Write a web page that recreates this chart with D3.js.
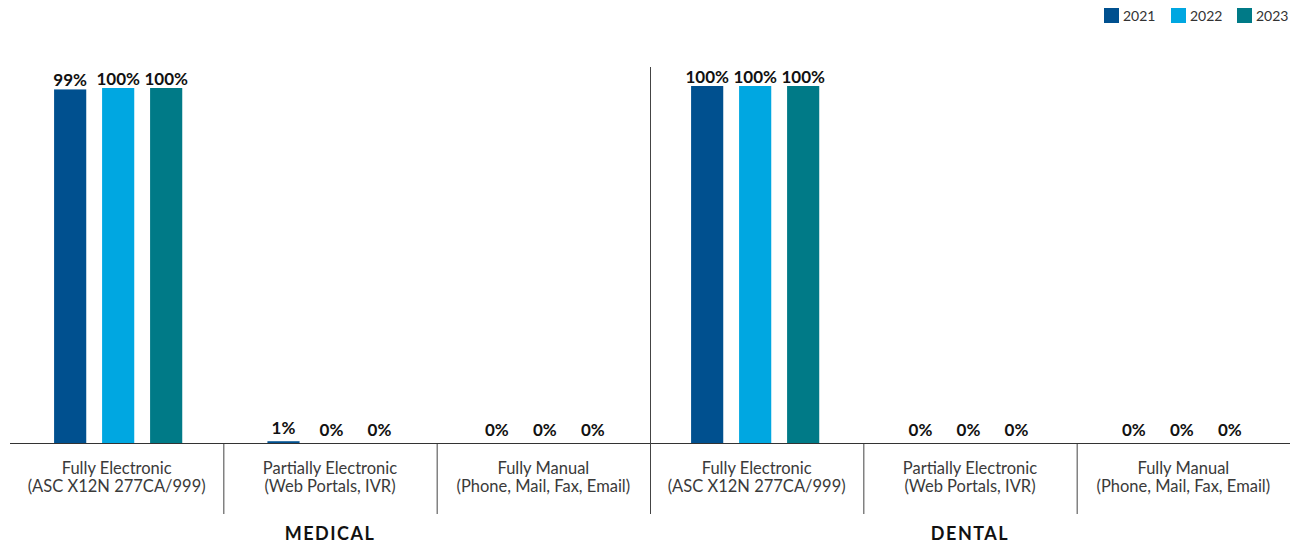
<!DOCTYPE html>
<html>
<head>
  <meta charset="utf-8">
  <title>Claim status methods</title>
<script src="https://cdnjs.cloudflare.com/ajax/libs/d3/7.8.5/d3.min.js"></script>
<style>
body {
  margin: 0;
  background: white;
  font-family: Lato, "Open Sans", sans-serif;
}

.val {
  font-weight: bold;
  font-size: 17px;
  fill: #111;
  text-anchor: middle;
}

.cat {
  font-size: 16.5px;
  fill: #3a3a3a;
  text-anchor: middle;
}

.group {
  font-weight: bold;
  font-size: 18px;
  letter-spacing: 1.5px;
  fill: #111;
  text-anchor: middle;
}

.legend text {
  font-size: 14px;
  fill: #333;
}

.sep {
  stroke: #444;
  stroke-width: 1;
}
</style>
</head>
<body>
<svg id="vis" width="1294" height="544"></svg>
<script>
var years = ['2021', '2022', '2023'];
var colors = ['#00508f', '#00a7e1', '#007a87'];

var catLine1 = ['Fully Electronic', 'Partially Electronic', 'Fully Manual'];
var catLine2 = ['(ASC X12N 277CA/999)', '(Web Portals, IVR)', '(Phone, Mail, Fax, Email)'];

// values (percent), one array per year
var medical2021 = [99.6, 0.5, 0];
var medical2022 = [100, 0, 0];
var medical2023 = [100, 0, 0];
var medicalLabels2021 = ['99%', '1%', '0%'];
var medicalLabels2022 = ['100%', '0%', '0%'];
var medicalLabels2023 = ['100%', '0%', '0%'];

var dental2021 = [100, 0, 0];
var dental2022 = [100, 0, 0];
var dental2023 = [100, 0, 0];
var dentalLabels2021 = ['100%', '0%', '0%'];
var dentalLabels2022 = ['100%', '0%', '0%'];
var dentalLabels2023 = ['100%', '0%', '0%'];

var svg = d3.select('#vis');
var baseY = 443;
var left = 10, right = 1290, mid = 650;

function buildRows(vals, labs) {
  var rows = [];
  catLine1.forEach(function(c, i) {
    years.forEach(function(y, j) {
      rows.push({cat: c, year: y, value: vals[j][i], label: labs[j][i]});
    });
  });
  return rows;
}

function drawPanel(name, x0range, yTop, shift, rows) {
  var g = svg.append('g');

  var x0 = d3.scaleBand()
    .domain(catLine1)
    .range(x0range);
  var x1 = d3.scaleBand()
    .domain(years)
    .range([-72 + shift, 72 + shift])
    .paddingInner(0.33)
    .paddingOuter(0.165);
  var y = d3.scaleLinear()
    .domain([0, 100])
    .range([baseY, yTop]);
  var color = d3.scaleOrdinal().domain(years).range(colors);

  g.selectAll('.bar')
    .data(rows)
    .enter().append('rect')
      .attr('class', 'bar')
      .attr('x', d => x0(d.cat) + x0.bandwidth()/2 + x1(d.year))
      .attr('width', x1.bandwidth())
      .attr('y', d => y(d.value))
      .attr('height', d => baseY - y(d.value))
      .style('fill', d => color(d.year));

  g.selectAll('.val')
    .data(rows)
    .enter().append('text')
      .attr('class', 'val')
      .attr('x', d => x0(d.cat) + x0.bandwidth()/2 + x1(d.year) + x1.bandwidth()/2)
      .attr('y', d => y(d.value) - (d.value < 1 ? 7 : 3.5))
      .text(d => d.label);

  var cats = g.selectAll('.cat')
    .data(catLine1)
    .enter().append('text')
      .attr('class', 'cat')
      .attr('x', d => x0(d) + x0.bandwidth()/2)
      .attr('y', 474);
  cats.append('tspan').text(d => d);
  cats.append('tspan')
    .attr('x', d => x0(d) + x0.bandwidth()/2)
    .attr('dy', 18)
    .text((d, i) => catLine2[i]);

  // separators between categories, under the axis
  g.selectAll('.sep')
    .data(catLine1.slice(1))
    .enter().append('line')
      .attr('class', 'sep')
      .attr('x1', d => x0(d) + 0.5)
      .attr('x2', d => x0(d) + 0.5)
      .attr('y1', baseY)
      .attr('y2', 514);

  g.append('text')
    .attr('class', 'group')
    .attr('x', (x0range[0] + x0range[1])/2)
    .attr('y', 540)
    .text(name);
}

drawPanel('MEDICAL', [left, mid], 88, 1.5,
  buildRows([medical2021, medical2022, medical2023],
            [medicalLabels2021, medicalLabels2022, medicalLabels2023]));
drawPanel('DENTAL', [mid, right], 86, -1.5,
  buildRows([dental2021, dental2022, dental2023],
            [dentalLabels2021, dentalLabels2022, dentalLabels2023]));

// axis line and middle divider
svg.append('line')
  .attr('x1', left).attr('x2', right)
  .attr('y1', baseY + 0.5).attr('y2', baseY + 0.5)
  .style('stroke', '#333');
svg.append('line')
  .attr('class', 'sep')
  .attr('x1', mid + 0.5).attr('x2', mid + 0.5)
  .attr('y1', 67).attr('y2', 514);

// legend
var legend = svg.append('g').attr('class', 'legend');
var legendX = [1104, 1171, 1237];
var item = legend.selectAll('g')
  .data(years)
  .enter().append('g')
    .attr('transform', (d, i) => `translate(${legendX[i]}, 8)`);
item.append('rect')
  .attr('width', 15)
  .attr('height', 15)
  .style('fill', (d, i) => colors[i]);
item.append('text')
  .attr('x', 19)
  .attr('y', 13)
  .text(d => d);
</script>
</body>
</html>
